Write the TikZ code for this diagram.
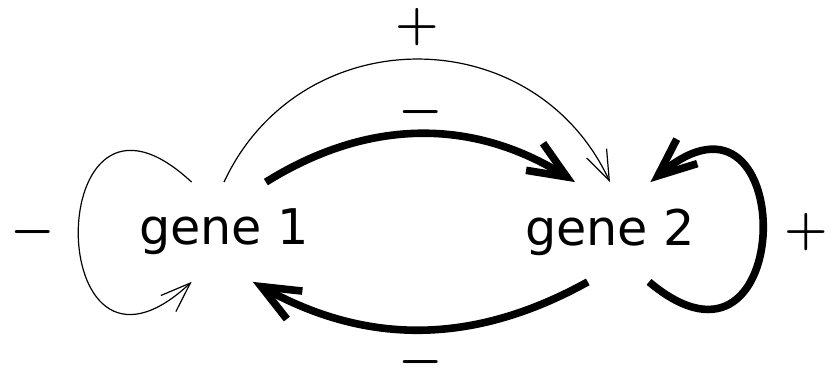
\documentclass[tikz,border=0pt]{standalone}
\usepackage{fontspec}
\setmainfont{DejaVu Sans}
\usepackage{tikz}
\usetikzlibrary{arrows.meta}
\tikzset{
  gene/.style={font=\fontsize{24.6}{30}\selectfont,minimum height=49.5pt,inner sep=10pt},
  sign/.style={font=\fontsize{24}{30}\selectfont\boldmath,inner sep=0pt},
  bigsign/.style={sign,font=\fontsize{28}{34}\selectfont\boldmath},
  weak/.style={-{Straight Barb[sharp,length=15pt,width=11pt]},line width=0.6pt},
  strong/.style={-{Straight Barb[sharp,length=19pt,width=16pt]},line width=3.8pt},
}

\begin{document}
\begin{tikzpicture}
  \useasboundingbox (-112pt,-68pt) rectangle (306pt,116pt);
  % ---- the two genes
  \node[gene] (g1) at (0,0) {gene 1};
  \node[gene] (g2) at (193pt,0) {gene 2};

  % ---- regulation between them
  \draw[weak] (g1.90) to[bend left=65,looseness=1.2]
    node[midway,sign,yshift=16pt] (pa) {$+$} (g2.90);
  \draw[strong] (g1.50) to[bend left=32]
    node[midway,sign,yshift=11pt] (ma) {$-$} (g2.125);
  \draw[strong] (g2.246) to[bend left=29]
    node[midway,sign,yshift=-16.5pt] (mb) {$-$} (g1.300);

  % ---- self loops
  \draw[weak] (g1.123) to[out=137,in=223,looseness=5.3]
    node[midway,sign,xshift=-23pt] (mc) {$-$} (g1.237);
  \draw[strong] (g2.-52) to[out=-40,in=40,looseness=5]
    node[midway,bigsign,xshift=22pt] (pb) {$+$} (g2.51);
\end{tikzpicture}
\end{document}
